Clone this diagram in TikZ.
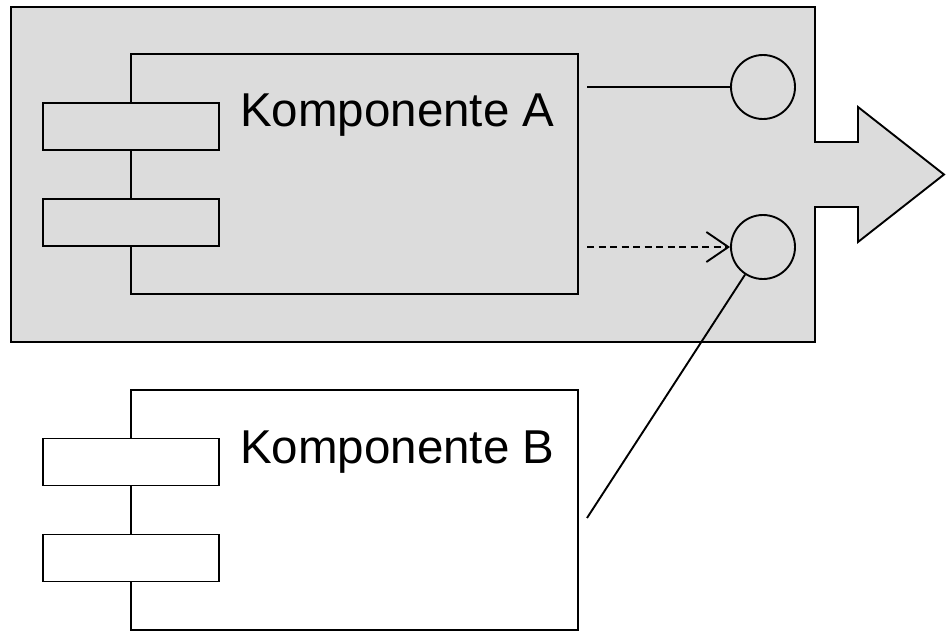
\documentclass[tikz,border=0pt]{standalone}
\usepackage{fontspec}
\setmainfont{Liberation Sans}
\usetikzlibrary{arrows.meta}
\definecolor{pkgfill}{HTML}{DCDCDC}
\tikzset{
  x=1pt, y=-1pt,
  lw/.style={line width=1.9pt},
  compbox/.style={draw, lw, rectangle, inner sep=0pt, minimum width=447pt, minimum height=240pt},
  tab/.style={draw, lw, rectangle, inner sep=0pt, minimum width=176pt, minimum height=47pt},
  port/.style={draw, lw, circle, inner sep=0pt, minimum size=64pt},
  lbl/.style={anchor=base west, inner sep=0pt, font=\fontsize{47.5pt}{50pt}\selectfont},
}
\begin{document}
\begin{tikzpicture}
\useasboundingbox (0,0) rectangle (947,631);

% enclosing package with export arrow
\draw[lw, fill=pkgfill, line join=miter]
  (11,7) -- (815,7) -- (815,142) -- (858,142) -- (858,107) -- (944,174.5)
  -- (858,242) -- (858,207) -- (815,207) -- (815,342) -- (11,342) -- cycle;

% component A
\node[compbox] (compA) at (354.5,174) {};
\node[tab, fill=pkgfill] (tabA1) at (131,126.5) {};
\node[tab, fill=pkgfill] (tabA2) at (131,222.5) {};
\node[lbl] (labA) at (240,127) {Komponente A};

% component B
\node[compbox] (compB) at (354.5,510) {};
\node[tab, fill=white] (tabB1) at (131,462) {};
\node[tab, fill=white] (tabB2) at (131,558) {};
\node[lbl] (labB) at (240,463) {Komponente B};

% ports
\node[port] (p1) at (763,87) {};
\node[port] (p2) at (763,247) {};

% connectors
\coordinate (a1) at (587,87);
\coordinate (a2) at (587,247);
\coordinate (b1) at (587,518);
\draw[lw] (a1) -- (p1.west);
\draw[lw, dash pattern=on 7pt off 4.5pt, -{Straight Barb[length=22pt,width=30pt,line width=1.9pt]}] (a2) -- (p2.west);
\draw[lw] (b1) -- (p2);
\end{tikzpicture}
\end{document}
